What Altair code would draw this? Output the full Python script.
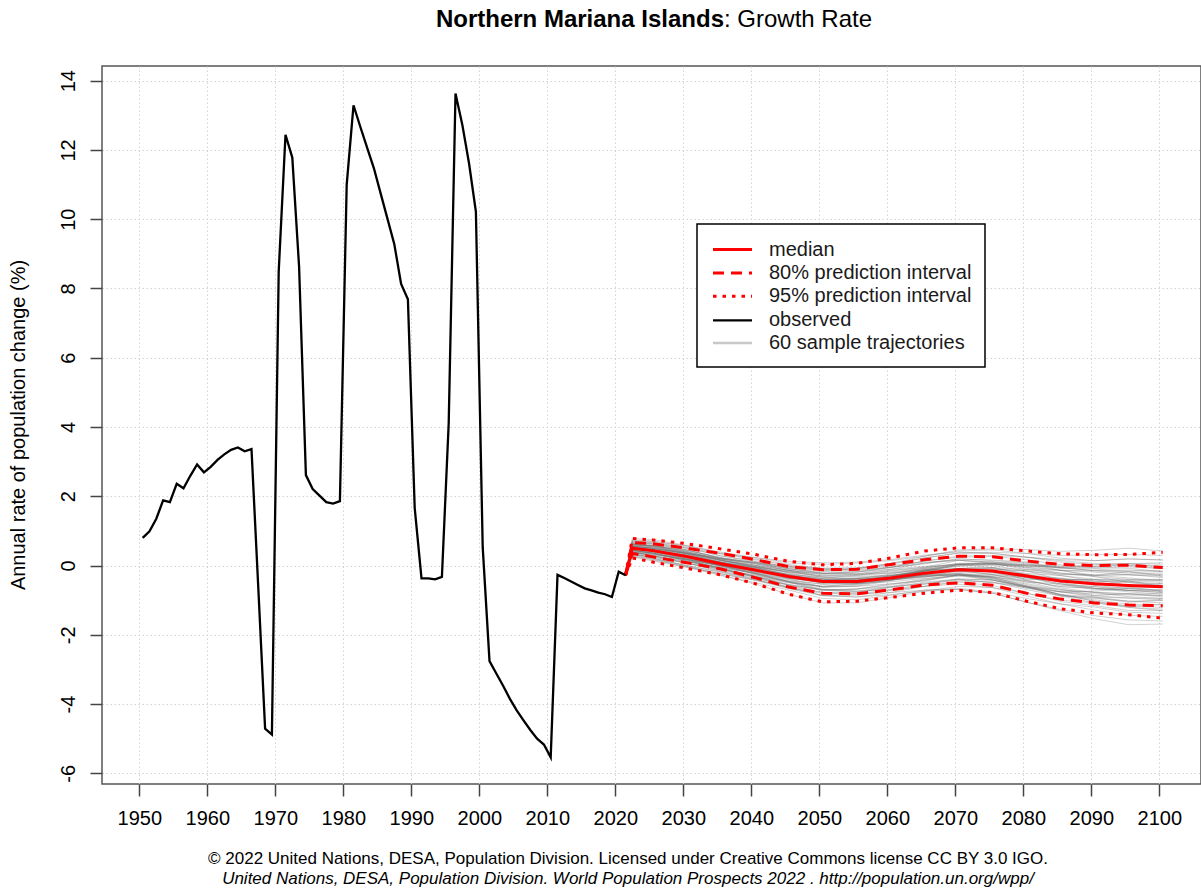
import altair as alt
import pandas as pd

# ---------------- observed annual growth rate (%) ----------------
obs_years = list(range(1950, 2022))
obs_rate = [
    0.80, 0.99, 1.35, 1.88, 1.83, 2.36, 2.23, 2.59, 2.92, 2.69,
    2.85, 3.05, 3.21, 3.34, 3.41, 3.30, 3.36, -0.65, -4.71, -4.88,
    8.49, 12.44, 11.78, 8.62, 2.61, 2.21, 2.02, 1.83, 1.79, 1.86,
    11.00, 13.29, 12.67, 12.07, 11.47, 10.74, 10.01, 9.28, 8.13, 7.69,
    1.66, -0.37, -0.37, -0.40, -0.33, 4.11, 13.63, 12.73, 11.60, 10.21,
    0.53, -2.76, -3.12, -3.47, -3.85, -4.18, -4.47, -4.75, -5.00, -5.17,
    -5.54, -0.27, -0.36, -0.46, -0.56, -0.66, -0.72, -0.78, -0.83, -0.91,
    -0.18, -0.28,
]

# ---------------- projection summaries ----------------
proj_years = [2021, 2022, 2025, 2030, 2035, 2040, 2045, 2050, 2055, 2060,
              2065, 2070, 2075, 2080, 2085, 2090, 2095, 2100]
median = [-0.28, 0.50, 0.43, 0.26, 0.05, -0.13, -0.32, -0.46, -0.46, -0.36,
          -0.22, -0.12, -0.16, -0.30, -0.45, -0.53, -0.58, -0.61]
upper80 = [-0.28, 0.66, 0.63, 0.50, 0.35, 0.17, -0.03, -0.12, -0.11, 0.03,
           0.17, 0.27, 0.25, 0.13, 0.03, 0.00, 0.01, -0.06]
lower80 = [-0.28, 0.35, 0.25, 0.08, -0.10, -0.35, -0.62, -0.80, -0.82, -0.70,
           -0.56, -0.50, -0.57, -0.80, -0.97, -1.08, -1.14, -1.16]
upper95 = [-0.28, 0.78, 0.74, 0.63, 0.48, 0.32, 0.12, 0.02, 0.06, 0.22,
           0.42, 0.51, 0.51, 0.42, 0.34, 0.31, 0.32, 0.38]
lower95 = [-0.28, 0.22, 0.10, -0.08, -0.27, -0.52, -0.83, -1.05, -1.03, -0.92,
           -0.80, -0.71, -0.78, -1.03, -1.25, -1.37, -1.42, -1.52]

# ---------------- 60 sample trajectories (2022, 2025, 2030, ... 2100) ----------------
traj_years = [2022, 2025, 2030, 2035, 2040, 2045, 2050, 2055, 2060,
              2065, 2070, 2075, 2080, 2085, 2090, 2095, 2100]
trajectories = [
    [0.52, 0.41, 0.28, 0.03, -0.11, -0.35, -0.44, -0.49, -0.33, -0.25, -0.10, -0.19, -0.28, -0.48, -0.50, -0.62, -0.58],
    [0.63, 0.56, 0.45, 0.21, 0.09, -0.11, -0.17, -0.20, -0.06, 0.05, 0.20, 0.14, 0.08, -0.09, -0.10, -0.16, -0.15],
    [0.37, 0.30, 0.07, -0.15, -0.31, -0.57, -0.71, -0.77, -0.62, -0.53, -0.40, -0.50, -0.64, -0.87, -0.93, -1.06, -1.01],
    [0.56, 0.50, 0.34, 0.08, -0.08, -0.31, -0.45, -0.50, -0.41, -0.33, -0.22, -0.33, -0.47, -0.70, -0.77, -0.83, -0.81],
    [0.44, 0.37, 0.21, 0.01, -0.13, -0.30, -0.41, -0.38, -0.25, -0.07, 0.06, 0.06, -0.01, -0.14, -0.19, -0.27, -0.31],
    [0.68, 0.66, 0.50, 0.28, 0.13, -0.04, -0.14, -0.15, -0.05, 0.13, 0.24, 0.26, 0.17, 0.02, -0.07, -0.08, -0.18],
    [0.33, 0.21, 0.00, -0.20, -0.41, -0.67, -0.87, -0.85, -0.72, -0.60, -0.48, -0.58, -0.80, -1.04, -1.16, -1.30, -1.30],
    [0.54, 0.49, 0.35, 0.16, 0.01, -0.14, -0.22, -0.18, -0.05, 0.13, 0.27, 0.29, 0.24, 0.17, 0.14, 0.19, 0.16],
    [0.62, 0.57, 0.40, 0.16, -0.05, -0.27, -0.46, -0.52, -0.47, -0.37, -0.30, -0.42, -0.62, -0.84, -0.99, -1.12, -1.13],
    [0.40, 0.33, 0.17, 0.00, -0.15, -0.30, -0.41, -0.38, -0.28, -0.16, -0.09, -0.16, -0.34, -0.53, -0.66, -0.72, -0.78],
    [0.74, 0.71, 0.55, 0.34, 0.17, 0.00, -0.11, -0.12, -0.05, 0.07, 0.18, 0.16, 0.10, -0.06, -0.15, -0.18, -0.27],
    [0.27, 0.16, -0.03, -0.24, -0.43, -0.64, -0.81, -0.82, -0.70, -0.54, -0.42, -0.48, -0.70, -0.88, -0.95, -1.03, -1.00],
    [0.50, 0.42, 0.21, -0.02, -0.25, -0.48, -0.70, -0.74, -0.70, -0.60, -0.54, -0.64, -0.88, -1.11, -1.29, -1.44, -1.47],
    [0.52, 0.43, 0.31, 0.07, -0.05, -0.27, -0.33, -0.38, -0.33, -0.13, -0.12, -0.10, -0.16, -0.41, -0.40, -0.58, -0.52],
    [0.46, 0.42, 0.19, 0.01, -0.23, -0.39, -0.62, -0.57, -0.42, -0.34, -0.15, -0.26, -0.48, -0.53, -0.70, -0.63, -0.74],
    [0.60, 0.57, 0.43, 0.23, 0.09, -0.04, -0.11, -0.10, 0.03, 0.22, 0.36, 0.38, 0.35, 0.29, 0.31, 0.32, 0.29],
    [0.39, 0.28, 0.07, -0.17, -0.39, -0.64, -0.87, -0.91, -0.84, -0.74, -0.69, -0.80, -1.06, -1.27, -1.45, -1.57, -1.60],
    [0.57, 0.54, 0.36, 0.14, -0.01, -0.20, -0.30, -0.26, -0.19, -0.08, 0.06, 0.06, -0.08, -0.26, -0.28, -0.26, -0.35],
    [0.43, 0.36, 0.14, -0.06, -0.23, -0.48, -0.62, -0.60, -0.53, -0.42, -0.30, -0.32, -0.52, -0.72, -0.78, -0.81, -0.87],
    [0.66, 0.61, 0.45, 0.23, 0.05, -0.14, -0.27, -0.29, -0.22, -0.10, -0.03, -0.10, -0.26, -0.45, -0.57, -0.67, -0.74],
    [0.34, 0.25, 0.07, -0.11, -0.29, -0.46, -0.60, -0.54, -0.42, -0.22, -0.09, -0.10, -0.16, -0.25, -0.28, -0.27, -0.27],
    [0.51, 0.46, 0.26, 0.07, -0.15, -0.30, -0.46, -0.43, -0.30, -0.22, -0.09, -0.19, -0.30, -0.37, -0.49, -0.58, -0.57],
    [0.48, 0.39, 0.24, 0.01, -0.13, -0.37, -0.49, -0.54, -0.42, -0.25, -0.21, -0.22, -0.34, -0.57, -0.61, -0.72, -0.70],
    [0.61, 0.55, 0.38, 0.14, -0.07, -0.27, -0.43, -0.43, -0.30, -0.10, 0.03, 0.03, -0.05, -0.14, -0.15, -0.13, -0.18],
    [0.39, 0.31, 0.16, -0.02, -0.19, -0.37, -0.49, -0.49, -0.42, -0.31, -0.27, -0.35, -0.55, -0.76, -0.91, -1.03, -1.08],
    [0.70, 0.67, 0.52, 0.28, 0.11, -0.09, -0.22, -0.24, -0.16, -0.05, 0.03, 0.00, -0.16, -0.29, -0.40, -0.44, -0.48],
    [0.31, 0.19, 0.00, -0.18, -0.37, -0.55, -0.70, -0.68, -0.56, -0.39, -0.27, -0.32, -0.44, -0.61, -0.66, -0.72, -0.74],
    [0.55, 0.51, 0.38, 0.21, 0.09, -0.02, -0.08, -0.07, 0.00, 0.10, 0.15, 0.10, -0.05, -0.22, -0.32, -0.40, -0.44],
    [0.45, 0.36, 0.14, -0.11, -0.35, -0.62, -0.87, -0.91, -0.78, -0.60, -0.45, -0.48, -0.62, -0.76, -0.82, -0.85, -0.87],
    [0.50, 0.45, 0.31, 0.14, 0.01, -0.14, -0.24, -0.26, -0.22, -0.13, -0.09, -0.19, -0.41, -0.65, -0.78, -0.90, -0.95],
    [0.58, 0.57, 0.36, 0.19, -0.03, -0.16, -0.35, -0.29, -0.14, -0.05, 0.15, 0.06, -0.12, -0.14, -0.28, -0.18, -0.31],
    [0.42, 0.36, 0.12, -0.06, -0.31, -0.48, -0.73, -0.68, -0.53, -0.45, -0.27, -0.38, -0.62, -0.68, -0.87, -0.81, -0.91],
    [0.64, 0.63, 0.50, 0.34, 0.23, 0.12, 0.08, 0.10, 0.17, 0.30, 0.39, 0.35, 0.24, 0.10, 0.02, 0.00, -0.09],
    [0.36, 0.22, -0.01, -0.27, -0.53, -0.83, -1.08, -1.08, -0.92, -0.74, -0.60, -0.64, -0.80, -1.00, -1.08, -1.17, -1.13],
    [0.54, 0.46, 0.26, 0.01, -0.21, -0.46, -0.68, -0.74, -0.61, -0.42, -0.27, -0.26, -0.34, -0.41, -0.40, -0.40, -0.40],
    [0.46, 0.40, 0.26, 0.09, -0.05, -0.18, -0.24, -0.18, -0.11, -0.02, 0.03, -0.06, -0.26, -0.49, -0.66, -0.76, -0.83],
    [0.78, 0.75, 0.58, 0.36, 0.19, 0.03, -0.08, -0.07, 0.06, 0.22, 0.36, 0.35, 0.24, 0.14, 0.06, 0.05, -0.05],
    [0.25, 0.13, -0.05, -0.24, -0.41, -0.62, -0.78, -0.77, -0.64, -0.48, -0.39, -0.42, -0.59, -0.76, -0.87, -0.94, -0.95],
    [0.56, 0.49, 0.35, 0.16, -0.03, -0.23, -0.38, -0.43, -0.39, -0.31, -0.27, -0.29, -0.37, -0.45, -0.45, -0.45, -0.40],
    [0.44, 0.34, 0.18, -0.02, -0.23, -0.41, -0.54, -0.52, -0.36, -0.16, 0.00, 0.03, -0.01, -0.06, -0.07, -0.04, -0.09],
    [0.68, 0.63, 0.45, 0.21, 0.01, -0.21, -0.38, -0.43, -0.39, -0.31, -0.27, -0.38, -0.62, -0.88, -1.08, -1.21, -1.26],
    [0.32, 0.24, 0.07, -0.11, -0.27, -0.44, -0.54, -0.49, -0.33, -0.13, 0.03, 0.06, 0.02, -0.02, 0.02, 0.05, 0.04],
    [0.50, 0.47, 0.23, 0.09, -0.19, -0.30, -0.51, -0.38, -0.39, -0.16, -0.18, -0.13, -0.41, -0.37, -0.57, -0.45, -0.61],
    [0.61, 0.58, 0.41, 0.19, 0.05, -0.09, -0.22, -0.24, -0.11, 0.07, 0.15, 0.10, 0.02, -0.06, -0.15, -0.22, -0.22],
    [0.39, 0.28, 0.11, -0.09, -0.31, -0.55, -0.70, -0.68, -0.61, -0.51, -0.39, -0.42, -0.62, -0.84, -0.91, -0.94, -0.99],
    [0.55, 0.51, 0.36, 0.19, 0.07, -0.07, -0.14, -0.10, 0.06, 0.27, 0.45, 0.48, 0.46, 0.41, 0.44, 0.50, 0.42],
    [0.45, 0.36, 0.16, -0.09, -0.33, -0.57, -0.78, -0.82, -0.78, -0.71, -0.69, -0.80, -1.06, -1.31, -1.54, -1.71, -1.69],
    [0.52, 0.45, 0.24, 0.00, -0.23, -0.46, -0.62, -0.60, -0.44, -0.25, -0.09, -0.06, -0.12, -0.22, -0.28, -0.36, -0.44],
    [0.48, 0.42, 0.28, 0.10, -0.03, -0.18, -0.30, -0.32, -0.28, -0.19, -0.15, -0.26, -0.44, -0.61, -0.66, -0.72, -0.78],
    [0.63, 0.58, 0.40, 0.16, -0.05, -0.27, -0.46, -0.49, -0.36, -0.16, 0.00, 0.03, -0.01, -0.06, -0.03, 0.05, 0.08],
    [0.37, 0.28, 0.12, -0.06, -0.21, -0.37, -0.46, -0.43, -0.36, -0.28, -0.24, -0.35, -0.59, -0.84, -1.03, -1.21, -1.30],
    [0.57, 0.51, 0.33, 0.10, -0.09, -0.30, -0.46, -0.49, -0.42, -0.28, -0.15, -0.16, -0.26, -0.37, -0.45, -0.49, -0.52],
    [0.43, 0.36, 0.19, 0.00, -0.17, -0.34, -0.46, -0.43, -0.30, -0.16, -0.09, -0.16, -0.34, -0.53, -0.61, -0.67, -0.70],
    [0.72, 0.69, 0.57, 0.39, 0.23, 0.07, 0.03, 0.07, 0.14, 0.27, 0.42, 0.45, 0.35, 0.21, 0.14, 0.19, 0.16],
    [0.28, 0.18, -0.05, -0.29, -0.49, -0.71, -0.95, -0.99, -0.86, -0.71, -0.66, -0.77, -0.95, -1.11, -1.20, -1.35, -1.38],
    [0.50, 0.46, 0.35, 0.19, 0.07, -0.14, -0.33, -0.40, -0.36, -0.16, 0.03, 0.10, 0.06, -0.14, -0.32, -0.49, -0.61],
    [0.50, 0.40, 0.18, -0.09, -0.33, -0.50, -0.60, -0.52, -0.36, -0.28, -0.27, -0.42, -0.66, -0.76, -0.74, -0.67, -0.61],
    [0.60, 0.54, 0.34, 0.10, -0.11, -0.34, -0.51, -0.49, -0.33, -0.13, 0.03, 0.06, 0.02, -0.02, -0.03, 0.00, -0.01],
    [0.40, 0.33, 0.18, 0.00, -0.15, -0.30, -0.38, -0.40, -0.36, -0.28, -0.24, -0.35, -0.59, -0.84, -1.03, -1.17, -1.21],
    [0.54, 0.49, 0.29, 0.10, -0.11, -0.25, -0.41, -0.35, -0.30, -0.13, -0.09, -0.06, -0.23, -0.29, -0.45, -0.45, -0.57],
]

# axis ticks
x_ticks = list(range(1950, 2101, 10))
y_ticks = list(range(-6, 15, 2))

FONT = "Liberation Sans"
RED = "#ff0000"

# ---------------- tables (values plotted at mid-year) ----------------
obs_df = pd.DataFrame({"year": obs_years, "rate": obs_rate})
obs_df["x"] = obs_df["year"] + 0.5

band_rows = []
for name, series in [("median", median), ("u80", upper80), ("l80", lower80),
                     ("u95", upper95), ("l95", lower95)]:
    for yr, v in zip(proj_years, series):
        band_rows.append({"series": name, "x": yr + 0.5, "rate": v})
band_df = pd.DataFrame(band_rows)

traj_rows = []
for i, tr in enumerate(trajectories):
    traj_rows.append({"traj": i, "x": obs_years[-1] + 0.5, "rate": obs_rate[-1]})
    for yr, v in zip(traj_years, tr):
        traj_rows.append({"traj": i, "x": yr + 0.5, "rate": v})
traj_df = pd.DataFrame(traj_rows)

one = pd.DataFrame({"k": [0]})

x_enc = alt.X(
    "x:Q",
    scale=alt.Scale(domain=[1944.515, 2106.13], nice=False, zero=False),
    axis=alt.Axis(
        values=x_ticks, labelExpr="'' + datum.value", title=None,
        labelFont=FONT, labelFontSize=20, labelColor="#000000",
        labelPadding=12, tickSize=12, tickColor="#444444", tickWidth=1.5,
        domain=False, grid=True, gridColor="#d3d3d3", gridWidth=1,
        gridDash=[1.5, 2.5], labelFlush=False,
    ),
)
y_enc = alt.Y(
    "rate:Q",
    scale=alt.Scale(domain=[-6.309, 14.424], nice=False, zero=False),
    axis=alt.Axis(
        values=y_ticks, labelExpr="'' + datum.value", title=None,
        labelFont=FONT, labelFontSize=20, labelColor="#000000",
        labelAngle=270, labelAlign="center", labelBaseline="bottom",
        labelPadding=12, tickSize=12, tickColor="#444444", tickWidth=1.5,
        domain=False, grid=True, gridColor="#d3d3d3", gridWidth=1,
        gridDash=[1.5, 2.5], labelFlush=False,
    ),
)

traj_layer = alt.Chart(traj_df).mark_line(
    color="#666666", opacity=0.3, strokeWidth=1
).encode(x=x_enc, y=y_enc, detail="traj:N")

def band(name, dash):
    return alt.Chart(band_df).transform_filter(
        alt.datum.series == name
    ).mark_line(color=RED, strokeWidth=3, strokeDash=dash).encode(x=x_enc, y=y_enc)

dashed = [11, 7]
dotted = [3.5, 6]
u95_layer = band("u95", dotted)
l95_layer = band("l95", dotted)
u80_layer = band("u80", dashed)
l80_layer = band("l80", dashed)
med_layer = alt.Chart(band_df).transform_filter(
    alt.datum.series == "median"
).mark_line(color=RED, strokeWidth=3).encode(x=x_enc, y=y_enc)

obs_layer = alt.Chart(obs_df).mark_line(
    color="#000000", strokeWidth=2.3
).encode(x=x_enc, y=y_enc)

# ---------------- legend ----------------
legend_box = alt.Chart(one).mark_rect(
    fill="#ffffff", stroke="#000000", strokeWidth=1.5
).encode(x=alt.value(595), x2=alt.value(883), y=alt.value(158), y2=alt.value(301))

legend_items = [
    ("median", RED, None, 3, 183.6),
    ("80% prediction interval", RED, dashed, 3, 207.0),
    ("95% prediction interval", RED, dotted, 3, 230.3),
    ("observed", "#000000", None, 2.3, 254.3),
    ("60 sample trajectories", "#c8c8c8", None, 2.3, 277.0),
]
legend_layers = []
for label, col, dash, w, py in legend_items:
    kw = dict(color=col, strokeWidth=w)
    if dash is not None:
        kw["strokeDash"] = dash
    legend_layers.append(
        alt.Chart(one).mark_rule(**kw).encode(
            x=alt.value(611), x2=alt.value(650), y=alt.value(py)
        )
    )
    legend_layers.append(
        alt.Chart(one).mark_text(
            font=FONT, fontSize=20, align="left", baseline="middle", color="#1a1a1a"
        ).encode(x=alt.value(667), y=alt.value(py), text=alt.value(label))
    )

# ---------------- title, axis title, footer ----------------
title_bold = alt.Chart(one).mark_text(
    font=FONT, fontSize=24, fontWeight="bold", align="right", baseline="alphabetic"
).encode(x=alt.value(622), y=alt.value(-39), text=alt.value("Northern Mariana Islands"))
title_rest = alt.Chart(one).mark_text(
    font=FONT, fontSize=24, align="left", baseline="alphabetic"
).encode(x=alt.value(622), y=alt.value(-39), text=alt.value(": Growth Rate"))

y_title = alt.Chart(one).mark_text(
    font=FONT, fontSize=20, angle=270, align="center", baseline="middle"
).encode(x=alt.value(-83), y=alt.value(359),
         text=alt.value("Annual rate of population change (%)"))

foot1 = alt.Chart(one).mark_text(
    font=FONT, fontSize=17, align="center", baseline="middle"
).encode(x=alt.value(526), y=alt.value(793),
         text=alt.value("\u00a9 2022 United Nations, DESA, Population Division. "
                        "Licensed under Creative Commons license CC BY 3.0 IGO."))
foot2 = alt.Chart(one).mark_text(
    font=FONT, fontSize=17, fontStyle="italic", align="center", baseline="middle"
).encode(x=alt.value(526), y=alt.value(813),
         text=alt.value("United Nations, DESA, Population Division. World Population "
                        "Prospects 2022 . http://population.un.org/wpp/"))

chart = alt.layer(
    traj_layer, u95_layer, l95_layer, u80_layer, l80_layer, med_layer, obs_layer,
    legend_box, *legend_layers,
    title_bold, title_rest, y_title, foot1, foot2,
).properties(
    width=1099, height=718,
    padding={"left": 102, "top": 66, "right": 0, "bottom": 106},
    autosize=alt.AutoSizeParams(type="none"),
    background="#ffffff",
).configure_view(stroke="#555555", strokeWidth=1.5)

chart.save("out.html", embed_options={"renderer": "svg", "actions": False})
